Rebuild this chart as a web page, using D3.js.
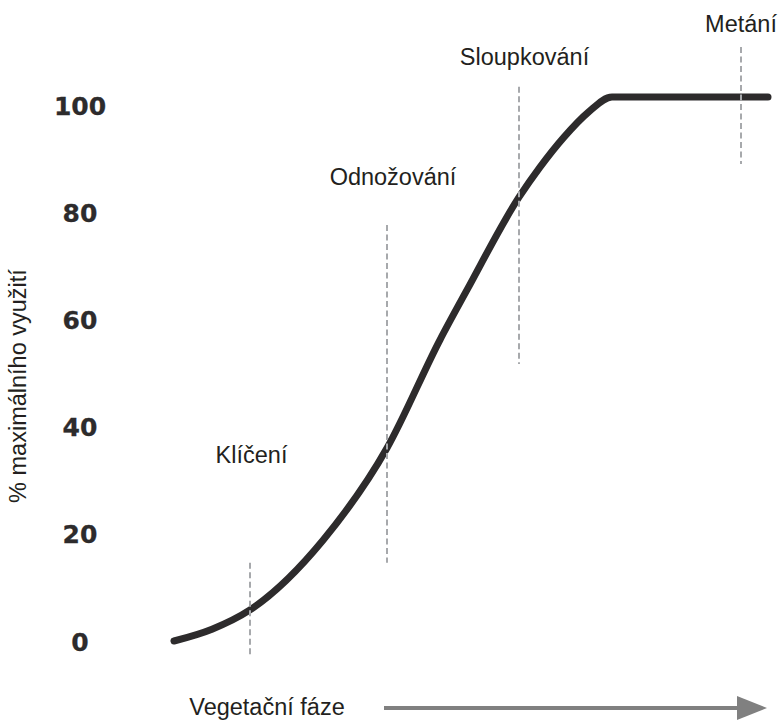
<!DOCTYPE html>
<meta charset="utf-8">
<head>
<style>
body { margin: 0; background: #fff; }
.lbl { font: 23.5px "Liberation Sans", Arial, sans-serif; fill: #231f20; }
.ticks text { font: bold 25px "DejaVu Sans", Verdana, sans-serif; fill: #2d2b2c; stroke: #2d2b2c; stroke-width: 0.3px; }
.ticks .domain { display: none; }
.phase { stroke: #a7a9ac; stroke-width: 2px; stroke-dasharray: 6,3.5; }
.curve { fill: none; stroke: #2d2b2c; stroke-width: 7px; stroke-linecap: round; stroke-linejoin: round; }
</style>
<script src="https://d3js.org/d3.v7.min.js"></script>
</head>
<body>
<svg width="782" height="724"></svg>
<script>
// position along the season (arbitrary units) and % of maximum use
var growthX = [0, 38, 76, 149, 213, 266, 293, 345, 366, 390, 414, 438, 594];
var growthY = [0, 2.2, 5.8, 18.8, 36, 56.2, 65.5, 82.8, 88.4, 94, 98.6, 101.5, 101.5];

var phaseNames = ["Klíčení", "Odnožování", "Sloupkování", "Metání"];
var phaseX = [76, 213, 345, 567];
var phaseTop = [14.6, 77.6, 103.4, 110.8];
var phaseBottom = [-3, 14.6, 51.7, 89];
var phaseLabelY = [33.2, 85.0, 107.5, 113.7];
var phaseLabelDx = [1.5, 6, 5.5, 0];

var yTicks = [0, 20, 40, 60, 80, 100];

var svg = d3.select("svg");

var x = d3.scaleLinear().domain([0, 600]).range([174, 774]);
var y = d3.scaleLinear().domain([0, 100]).range([641, 105]);

// y axis labels only
svg.append("g")
    .attr("class", "ticks")
    .attr("transform", "translate(80,0)")
    .call(d3.axisLeft(y).tickValues(yTicks).tickSize(0).tickPadding(0).tickFormat(d3.format("d")))
  .selectAll("text")
    .attr("x", 0)
    .attr("dy", "0.36em")
    .attr("text-anchor", "middle");

svg.append("text")
    .attr("class", "lbl")
    .attr("transform", "translate(26,386) rotate(-90)")
    .attr("text-anchor", "middle")
    .text("% maximálního využití");

var pts = growthX.map(function(d, i) { return [d, growthY[i]]; });

var line = d3.line()
    .x(function(d) { return x(d[0]); })
    .y(function(d) { return y(d[1]); })
    .curve(d3.curveMonotoneX);

svg.append("path")
    .datum(pts)
    .attr("class", "curve")
    .attr("d", line);

// phase markers drawn over the curve
var ph = svg.append("g").selectAll("g")
    .data(phaseNames)
    .enter().append("g");

ph.append("line")
    .attr("class", "phase")
    .attr("x1", function(d, i) { return x(phaseX[i]); })
    .attr("x2", function(d, i) { return x(phaseX[i]); })
    .attr("y1", function(d, i) { return y(phaseTop[i]); })
    .attr("y2", function(d, i) { return y(phaseBottom[i]); });

ph.append("text")
    .attr("class", "lbl")
    .attr("text-anchor", "middle")
    .attr("x", function(d, i) { return x(phaseX[i]) + phaseLabelDx[i]; })
    .attr("y", function(d, i) { return y(phaseLabelY[i]); })
    .text(function(d) { return d; });

// bottom caption and arrow
svg.append("text")
    .attr("class", "lbl")
    .attr("x", 267)
    .attr("y", 715)
    .attr("text-anchor", "middle")
    .text("Vegetační fáze");

svg.append("line")
    .attr("x1", 384)
    .attr("x2", 742)
    .attr("y1", 708)
    .attr("y2", 708)
    .attr("stroke", "#808080")
    .attr("stroke-width", 4);

svg.append("path")
    .attr("d", "M737,696 L767,708 L737,720 Z")
    .attr("fill", "#808080");
</script>
</body>
